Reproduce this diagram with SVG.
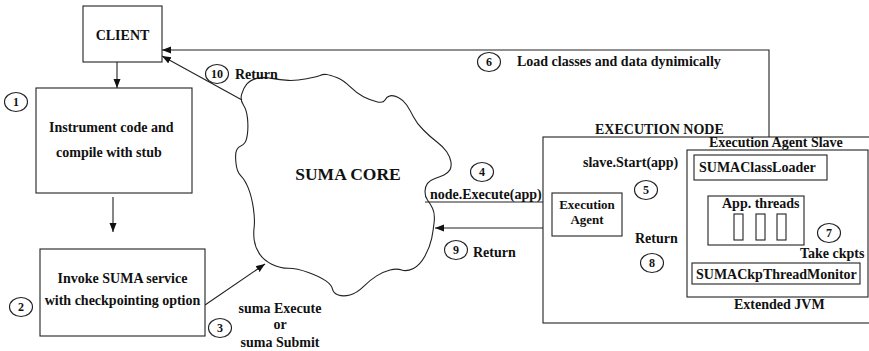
<svg xmlns="http://www.w3.org/2000/svg" width="869" height="351" viewBox="0 0 869 351">
<style>
.b{fill:#fff;stroke:#222;stroke-width:1.1}
.n{fill:none;stroke:#222;stroke-width:1.1}
.t{font-family:"Liberation Serif","Times New Roman",serif;font-weight:bold;font-size:14px;fill:#111}
.c{fill:#fff;stroke:#222;stroke-width:1.1}
.ct{font-family:"Liberation Serif","Times New Roman",serif;font-weight:bold;font-size:12px;fill:#111;text-anchor:middle}
.m{text-anchor:middle}
.a{fill:none;stroke:#222;stroke-width:1.1;marker-end:url(#ah)}
</style>
<defs>
<marker id="ah" markerUnits="userSpaceOnUse" markerWidth="10" markerHeight="8" refX="9" refY="3.5" orient="auto">
<path d="M0,0 L9,3.5 L0,7 z" fill="#111"/>
</marker>
</defs>
<rect width="869" height="351" fill="#fff"/>

<g id="suma-core">
<path class="n" d="M243.4,105 Q240,100 241.7,94.2 Q243.3,88.3 246.7,84.2 Q250,80 256.7,78.4 Q263.3,76.7 271.7,78.4 Q280,80 288.4,80.4 Q296.7,80.7 306.7,78.7 Q316.7,76.7 320,75.4 Q323.3,74 326.7,74.5 Q330,75 336.7,77.5 Q343.3,80 350,86.7 Q356.7,93.3 363.4,96.7 Q370,100 376.7,101.7 Q383.3,103.3 385,100 Q386.7,96.7 390,95.9 Q393.3,95 398.3,97.5 Q403.3,100 406.7,105 Q410,110 413.4,116.7 Q416.7,123.3 423.4,130 Q430,136.7 436.7,141.7 Q443.3,146.7 446.7,151.7 Q450,156.7 450.9,161.7 Q451.7,166.7 449.9,169.9 Q448,173 444,174.9 Q440,176.7 435,178.4 Q430,180 427.5,183.4 Q425,186.7 425,191.7 Q425,196.7 427.5,200 Q430,203.3 432.5,208.3 Q435,213.3 434.2,221.7 Q433.3,230 431.7,238.4 Q430,246.7 425,255.9 Q420,265 413.4,268.4 Q406.7,271.7 401.7,270 Q396.7,268.3 390,270 Q383.3,271.7 376.7,275.9 Q370,280 363.4,286.7 Q356.7,293.3 350,295 Q343.3,296.7 338.3,295 Q333.3,293.3 332.5,289.2 Q331.7,285 325.9,280.9 Q320,276.7 308.4,272.5 Q296.7,268.3 288.4,268.3 Q280,268.3 271.7,264.2 Q263.3,260 259.2,253.4 Q255,246.7 254.2,240 Q253.3,233.3 254.2,226.7 Q255,220 253.4,208.4 Q251.7,196.7 248.4,188.4 Q245,180 240.9,175.9 Q236.7,171.7 235.9,162.5 Q235,153.3 236.7,150 Q238.3,146.7 240.8,145.9 Q243.3,145 245,142.5 Q246.7,140 247.5,133.4 Q248.3,126.7 247.5,118.4 Q246.7,110 243.4,105 Z"/>
<text class="t m" x="348" y="180" style="font-size:17.5px">SUMA CORE</text>
</g>

<g id="connectors">
<line class="a" x1="117" y1="62" x2="117" y2="88"/>
<line class="a" x1="113" y1="197" x2="113" y2="232"/>
<line class="a" x1="205" y1="305" x2="265" y2="264"/>
<line class="a" x1="242" y1="100" x2="162" y2="56"/>
<polyline class="a" points="769,155 769,50 162,50"/>
<line class="a" x1="425" y1="202" x2="552" y2="202"/>
<line class="a" x1="552" y1="228" x2="435" y2="228"/>
<line class="a" x1="622" y1="206" x2="687" y2="206"/>
<line class="a" x1="687" y1="227" x2="622" y2="227"/>
<line class="a" x1="756" y1="180" x2="756" y2="196"/>
<line class="a" x1="795" y1="263" x2="795" y2="245"/>
</g>

<g id="client">
<rect class="b" x="83" y="6" width="79" height="56"/>
<text class="t m" x="122.5" y="40">CLIENT</text>
</g>

<g id="instrument">
<rect class="b" x="36" y="88" width="156" height="105"/>
<text class="t" x="49" y="132">Instrument code and</text>
<text class="t" x="56" y="157">compile with stub</text>
</g>

<g id="invoke">
<rect class="b" x="40" y="249" width="165" height="87"/>
<text class="t m" x="122.5" y="283">Invoke SUMA service</text>
<text class="t m" x="122.5" y="305">with checkpointing option</text>
</g>

<g id="labels">
<text class="t m" x="280" y="313">suma Execute</text>
<text class="t m" x="280" y="329">or</text>
<text class="t m" x="280" y="347">suma Submit</text>
<text class="t" x="235" y="79">Return</text>
<text class="t" x="517" y="66">Load classes and data dynimically</text>
<text class="t" x="430" y="199">node.Execute(app)</text>
<text class="t" x="473" y="257">Return</text>
</g>

<g id="execution-node">
<rect class="b" x="543" y="137" width="332" height="186"/>
<text class="t" x="595" y="134">EXECUTION NODE</text>
<text class="t" x="583" y="167">slave.Start(app)</text>
<text class="t" x="635" y="243">Return</text>
</g>

<g id="execution-agent">
<rect class="b" x="552" y="193" width="70" height="43"/>
<text class="t m" x="587" y="209" style="font-size:13px">Execution</text>
<text class="t m" x="587" y="224" style="font-size:13px">Agent</text>
</g>

<g id="agent-slave">
<rect class="b" x="687" y="150" width="181" height="147"/>
<text class="t" x="709" y="147">Execution Agent Slave</text>
<text class="t" x="734" y="309">Extended JVM</text>
</g>

<g id="class-loader">
<rect class="b" x="694" y="155" width="133" height="25"/>
<text class="t" x="699" y="172">SUMAClassLoader</text>
</g>

<g id="app-threads">
<rect class="b" x="708" y="196" width="96" height="49"/>
<text class="t" x="722" y="208">App. threads</text>
<rect class="b" x="734" y="214" width="9" height="26"/>
<rect class="b" x="756" y="214" width="9" height="26"/>
<rect class="b" x="777" y="214" width="9" height="26"/>
</g>

<g id="thread-monitor">
<rect class="b" x="692" y="263" width="168" height="21"/>
<text class="t" x="696" y="279">SUMACkpThreadMonitor</text>
<text class="t" x="800" y="258">Take ckpts</text>
</g>

<g id="steps">
<ellipse class="c" cx="16" cy="102" rx="11.5" ry="9.5"/><text class="ct" x="16" y="106">1</text>
<ellipse class="c" cx="21" cy="307" rx="11.5" ry="9.5"/><text class="ct" x="21" y="311">2</text>
<ellipse class="c" cx="220" cy="328" rx="11.5" ry="9.5"/><text class="ct" x="220" y="332">3</text>
<ellipse class="c" cx="482" cy="172" rx="11.5" ry="9.5"/><text class="ct" x="482" y="176">4</text>
<ellipse class="c" cx="646" cy="190" rx="11.5" ry="9.5"/><text class="ct" x="646" y="194">5</text>
<ellipse class="c" cx="489" cy="62" rx="11.5" ry="9.5"/><text class="ct" x="489" y="66">6</text>
<ellipse class="c" cx="829" cy="233" rx="11.5" ry="9.5"/><text class="ct" x="829" y="237">7</text>
<ellipse class="c" cx="652" cy="263" rx="11.5" ry="9.5"/><text class="ct" x="652" y="267">8</text>
<ellipse class="c" cx="456" cy="250" rx="11.5" ry="9.5"/><text class="ct" x="456" y="254">9</text>
<ellipse class="c" cx="217" cy="74" rx="11.5" ry="9.5"/><text class="ct" x="217" y="78">10</text>
</g>
</svg>
